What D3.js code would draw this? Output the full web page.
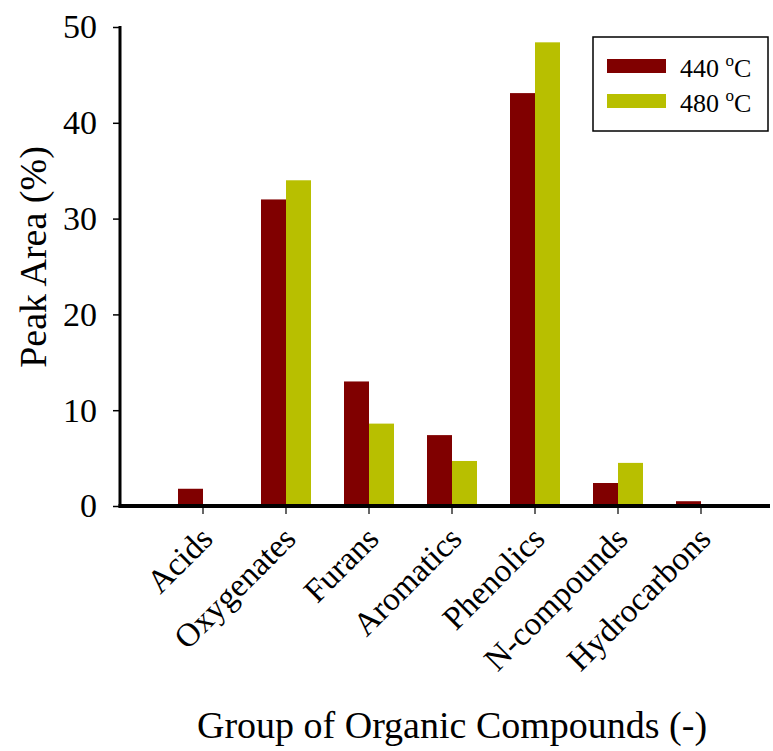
<!DOCTYPE html>
<meta charset="utf-8">
<title>Peak Area by Group of Organic Compounds</title>
<style>
  body { margin: 0; background-color: white; }
  text { font-family: "Liberation Serif", "Times New Roman", serif; fill: #000; }
</style>
<svg width="773" height="751"></svg>
<script src="https://cdn.jsdelivr.net/npm/d3@7"></script>
<script>
  // data
  var groups = ["Acids", "Oxygenates", "Furans", "Aromatics", "Phenolics", "N-compounds", "Hydrocarbons"];
  var series = ["440", "480"];
  var peak440 = [1.8, 32, 13, 7.4, 43.1, 2.4, 0.5];
  var peak480 = [0, 34, 8.6, 4.7, 48.4, 4.5, 0];
  var yTicks = [0, 10, 20, 30, 40, 50];
  var colors = ["#800000", "#b8bf00"];

  var svg = d3.select("svg");

  var x = d3.scaleBand()
            .domain(groups)
            .range([161.5, 742.5]);

  var xs = d3.scaleBand()
             .domain(series)
             .range([x.bandwidth() / 2 - 25, x.bandwidth() / 2 + 25]);

  var y = d3.scaleLinear()
            .domain([0, 50])
            .range([506, 27]);

  var rows = groups.map(function(g, i) {
    return { group: g, values: [peak440[i], peak480[i]] };
  });

  // bars
  svg.append("g")
     .selectAll("g")
     .data(rows)
     .enter().append("g")
     .attr("transform", function(d) { return "translate(" + x(d.group) + ",0)"; })
     .selectAll("rect")
     .data(function(d) { return d.values; })
     .enter().append("rect")
     .attr("x", function(d, j) { return xs(series[j]); })
     .attr("width", xs.bandwidth())
     .attr("y", function(d) { return y(d); })
     .attr("height", function(d) { return y(0) - y(d); })
     .attr("fill", function(d, j) { return colors[j]; });

  // y axis
  var yAxis = svg.append("g")
                 .attr("transform", "translate(120,0)")
                 .call(d3.axisLeft(y).tickValues(yTicks).tickSize(7).tickPadding(16));
  yAxis.select(".domain").remove();
  yAxis.selectAll(".tick line").attr("stroke", "#000").attr("stroke-width", 1.5);
  yAxis.selectAll(".tick text")
       .style("font-size", "34px")
       .style("font-family", "Liberation Serif, serif");
  svg.append("line")
     .attr("x1", 120).attr("x2", 120)
     .attr("y1", y(50) - 1).attr("y2", y(0) + 1.5)
     .attr("stroke", "#000").attr("stroke-width", 3);

  // x axis
  var xAxis = svg.append("g")
                 .attr("transform", "translate(0," + y(0) + ")")
                 .call(d3.axisBottom(x).tickSize(8).tickPadding(0));
  xAxis.select(".domain").remove();
  xAxis.selectAll(".tick line").attr("stroke", "#333").attr("stroke-width", 1.5);
  xAxis.selectAll(".tick text")
       .style("font-size", "33px")
       .style("font-family", "Liberation Serif, serif")
       .attr("text-anchor", "end")
       .attr("dy", null)
       .attr("transform", "translate(6,29) rotate(-45)");
  svg.append("line")
     .attr("x1", 118.5).attr("x2", 770)
     .attr("y1", y(0)).attr("y2", y(0))
     .attr("stroke", "#000").attr("stroke-width", 4);

  // axis titles
  svg.append("text")
     .attr("transform", "translate(46," + 257 + ") rotate(-90)")
     .attr("text-anchor", "middle")
     .style("font-size", "38px")
     .text("Peak Area (%)");

  svg.append("text")
     .attr("x", 452)
     .attr("y", 738)
     .attr("text-anchor", "middle")
     .style("font-size", "38px")
     .text("Group of Organic Compounds (-)");

  // legend
  var legend = svg.append("g");
  legend.append("rect")
        .attr("x", 593).attr("y", 37)
        .attr("width", 175).attr("height", 94)
        .attr("fill", "white").attr("stroke", "#000").attr("stroke-width", 1.5);
  var item = legend.selectAll(".item")
                   .data(series)
                   .enter().append("g")
                   .attr("class", "item")
                   .attr("transform", function(d, i) { return "translate(607," + (59 + i * 35) + ")"; });
  item.append("rect")
      .attr("width", 59).attr("height", 14)
      .attr("fill", function(d, i) { return colors[i]; });
  var lt = item.append("text")
               .attr("x", 73).attr("y", 18)
               .style("font-size", "26px");
  lt.append("tspan").text(function(d) { return d + " "; });
  lt.append("tspan").attr("dy", -11).style("font-size", "17px").text("o");
  lt.append("tspan").attr("dy", 11).text("C");
</script>
